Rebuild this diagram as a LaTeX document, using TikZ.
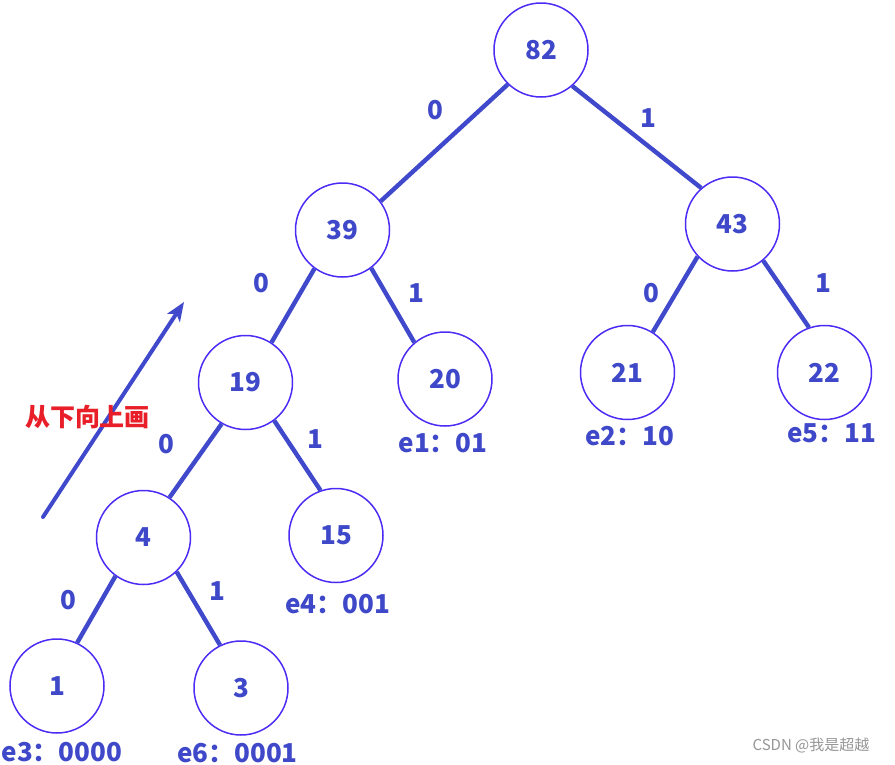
\documentclass[tikz,border=0pt]{standalone}
\usepackage{fontspec}
\setmainfont{Noto Sans CJK SC}
\usetikzlibrary{arrows.meta}
\definecolor{edgeblue}{RGB}{64,72,204}
\definecolor{ringblue}{RGB}{74,44,245}
\definecolor{txtblue}{RGB}{62,72,200}
\definecolor{hred}{RGB}{232,30,40}
\definecolor{wmgrey}{RGB}{150,150,150}
\tikzset{
  tnode/.style={circle, draw=ringblue, line width=1.5pt, minimum size=94pt, inner sep=0pt,
    font=\fontsize{26}{26}\selectfont\bfseries, text=txtblue},
  tedge/.style={draw=edgeblue, line width=4.4pt},
  bitlbl/.style={inner sep=0pt, font=\fontsize{26}{26}\selectfont\bfseries, text=txtblue},
  codelbl/.style={inner sep=0pt, font=\fontsize{26}{26}\selectfont\bfseries, text=txtblue},
}
\begin{document}
\begin{tikzpicture}[x=1pt,y=-1pt]
\useasboundingbox[fill=white] (0,0) rectangle (895,764);
% nodes
\node[tnode] (n82) at (541,50) {82};
\node[tnode] (n39) at (342.5,230) {39};
\node[tnode] (n43) at (732.5,224) {43};
\node[tnode] (n19) at (245.5,382.5) {19};
\node[tnode] (n20) at (445,379) {20};
\node[tnode] (n21) at (627.5,372.5) {21};
\node[tnode] (n22) at (824.5,372.5) {22};
\node[tnode] (n4) at (143.5,537.5) {4};
\node[tnode] (n15) at (336,535.5) {15};
\node[tnode] (n1) at (57,686) {1};
\node[tnode] (n3) at (241,688) {3};
% edges
\draw[tedge] (n82.226) -- (n39.37);
\draw[tedge] (n82.-49) -- (n43.131);
\draw[tedge] (n39.234) -- (n19.57);
\draw[tedge] (n39.-53) -- (n20.130);
\draw[tedge] (n19.240) -- (n4.57);
\draw[tedge] (n19.-53) -- (n15.109);
\draw[tedge] (n4.234) -- (n1.65);
\draw[tedge] (n4.-46) -- (n3.116);
\draw[tedge] (n43.223) -- (n21.58);
\draw[tedge] (n43.-50) -- (n22.109);
% bit labels
\node[bitlbl] (b1) at (435,110) {0};
\node[bitlbl] (b2) at (648,118) {1};
\node[bitlbl] (b3) at (261,283) {0};
\node[bitlbl] (b4) at (416,293) {1};
\node[bitlbl] (b5) at (166,444) {0};
\node[bitlbl] (b6) at (315,439) {1};
\node[bitlbl] (b7) at (68,600) {0};
\node[bitlbl] (b8) at (217,591) {1};
\node[bitlbl] (b9) at (651,293) {0};
\node[bitlbl] (b10) at (823,283) {1};
% code labels
\node[codelbl] (c1) at (443,443) {e1：01};
\node[codelbl] (c2) at (629.5,436) {e2：10};
\node[codelbl] (c5) at (831.5,433) {e5：11};
\node[codelbl] (c4) at (337.5,604) {e4：001};
\node[codelbl] (c3) at (62,752) {e3：0000};
\node[codelbl] (c6) at (237.5,753) {e6：0001};
% arrow
\coordinate (a0) at (43,517);
\coordinate (a1) at (184,302);
\draw[draw=edgeblue, line width=4pt, line cap=round, -{Stealth[length=19pt,width=15pt,inset=5pt]}] (a0) -- (a1);
\node[inner sep=0pt, text=hred, font=\fontsize{25}{25}\selectfont\bfseries] (hint) at (87.5,417) {从下向上画};
% watermark
\node[inner sep=0pt, text=wmgrey, font=\fontsize{15}{15}\selectfont] (wm) at (811,745) {CSDN @我是超越};
\end{tikzpicture}
\end{document}
